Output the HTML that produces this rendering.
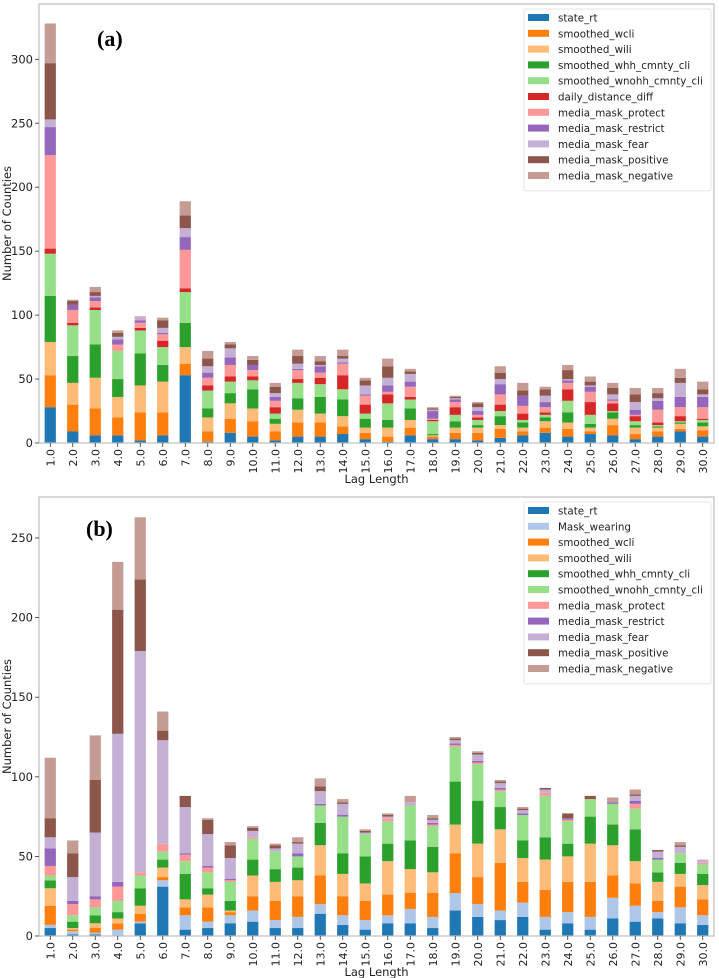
<!DOCTYPE html>
<html><head><meta charset="utf-8"><title>Number of Counties by Lag Length</title>
<style>
html,body{margin:0;padding:0;background:#fff;}
svg{display:block;font-family:"DejaVu Sans","Liberation Sans",sans-serif;}
</style></head>
<body>
<svg id="chart" width="719" height="978" viewBox="0 0 719 978"></svg>
<script>
// ---------- shared data ----------
const lagLabels = ["1.0","2.0","3.0","4.0","5.0","6.0","7.0","8.0","9.0","10.0","11.0","12.0","13.0","14.0","15.0","16.0","17.0","18.0","19.0","20.0","21.0","22.0","23.0","24.0","25.0","26.0","27.0","28.0","29.0","30.0"];

// ---------- panel (a) series ----------
const a_names = ["state_rt","smoothed_wcli","smoothed_wili","smoothed_whh_cmnty_cli","smoothed_wnohh_cmnty_cli","daily_distance_diff","media_mask_protect","media_mask_restrict","media_mask_fear","media_mask_positive","media_mask_negative"];
const a_state_rt  = [28,9,6,6,2,6,53,1,8,5,2,5,5,7,3,1,6,3,3,2,4,6,8,5,7,6,3,5,9,5];
const a_wcli      = [25,21,21,14,22,18,9,8,11,12,7,11,11,6,5,4,6,2,5,6,7,3,4,6,2,8,4,4,2,5];
const a_wili      = [26,17,24,16,21,24,13,11,12,10,6,10,7,8,4,7,6,1,4,4,3,3,5,5,3,5,5,3,4,3];
const a_whh       = [36,21,26,14,25,13,19,7,8,15,4,9,13,13,7,6,9,1,5,2,7,4,3,8,3,5,2,1,1,3];
const a_wnohh     = [33,24,27,22,18,14,24,14,9,7,4,12,10,8,4,13,7,10,5,4,4,2,2,9,7,1,3,1,1,2];
const a_daily     = [4,2,2,0,2,5,3,4,4,3,5,3,5,11,7,7,2,1,6,2,5,5,2,9,10,6,4,2,4,1];
const a_protect   = [73,10,5,5,4,5,30,6,9,5,5,7,4,9,7,2,8,1,4,2,8,6,4,5,8,2,1,10,7,9];
const a_restrict  = [22,4,3,4,2,1,10,4,6,4,3,1,5,1,1,5,4,6,2,3,8,8,4,2,4,1,4,7,8,8];
const a_fear      = [6,0,1,2,2,4,7,5,7,0,3,4,1,3,7,6,6,1,1,3,4,0,5,1,1,4,6,2,11,2];
const a_positive  = [44,3,3,3,0,6,10,6,3,4,5,6,3,2,4,9,2,1,1,3,5,4,5,7,3,5,6,4,4,4];
const a_negative  = [31,1,4,2,1,2,11,6,2,3,3,5,4,5,2,6,2,1,1,1,5,6,2,4,4,4,5,4,7,6];
const a_series = [a_state_rt,a_wcli,a_wili,a_whh,a_wnohh,a_daily,a_protect,a_restrict,a_fear,a_positive,a_negative];
const a_colors = ["#1f77b4","#ff7f0e","#ffbb78","#2ca02c","#98df8a","#d62728","#ff9896","#9467bd","#c5b0d5","#8c564b","#c49c94"];
const a_ticks = [0,50,100,150,200,250,300];

// ---------- panel (b) series ----------
const b_names = ["state_rt","Mask_wearing","smoothed_wcli","smoothed_wili","smoothed_whh_cmnty_cli","smoothed_wnohh_cmnty_cli","media_mask_protect","media_mask_restrict","media_mask_fear","media_mask_positive","media_mask_negative"];
const b_state_rt  = [5,1,1,0,8,31,4,5,8,9,5,5,14,7,4,8,8,5,16,12,10,12,4,8,4,11,9,11,8,7];
const b_mask      = [2,2,1,4,1,4,9,4,5,7,5,7,6,6,6,5,9,7,11,8,6,9,8,7,8,13,10,4,10,6];
const b_wcli      = [12,1,3,4,5,2,5,9,2,9,12,13,18,12,12,13,10,15,25,17,30,13,17,19,22,14,14,7,13,10];
const b_wili      = [11,1,3,3,5,6,5,8,1,13,12,10,19,14,11,21,15,13,18,21,21,15,19,16,24,19,14,12,8,9];
const b_whh       = [5,4,5,4,11,5,16,4,6,10,8,8,14,13,17,11,18,16,27,27,14,11,14,8,17,13,20,6,7,7];
const b_wnohh     = [3,4,5,7,8,5,8,10,12,13,11,7,11,23,14,14,22,13,22,23,10,16,26,14,11,13,13,8,6,6];
const b_protect   = [6,7,5,9,2,5,4,3,1,1,0,0,0,0,0,2,0,1,1,1,1,0,2,1,0,0,3,0,0,1];
const b_restrict  = [11,2,2,3,0,0,1,1,1,0,0,2,1,1,0,0,0,1,1,1,1,1,0,1,0,1,2,1,0,0];
const b_fear      = [7,15,40,93,139,65,29,20,13,4,2,6,8,7,1,1,2,2,2,4,3,2,2,0,0,0,3,4,4,2];
const b_positive  = [12,15,33,78,45,6,7,9,8,2,2,1,3,1,1,1,0,1,1,1,1,1,1,3,2,0,1,1,1,0];
const b_negative  = [38,8,28,30,39,12,0,1,2,1,1,3,5,2,1,1,4,2,1,1,1,1,0,0,0,3,3,0,2,0];
const b_series = [b_state_rt,b_mask,b_wcli,b_wili,b_whh,b_wnohh,b_protect,b_restrict,b_fear,b_positive,b_negative];
const b_colors = ["#1f77b4","#aec7e8","#ff7f0e","#ffbb78","#2ca02c","#98df8a","#ff9896","#9467bd","#c5b0d5","#8c564b","#c49c94"];
const b_ticks = [0,50,100,150,200,250];

const NS = "http://www.w3.org/2000/svg";
const svg = document.getElementById("chart");
function mk(tag, attrs, parent){
  const e = document.createElementNS(NS, tag);
  for (const k in attrs) e.setAttribute(k, attrs[k]);
  (parent||svg).appendChild(e);
  return e;
}

function drawPanel(cfg){
  const {left,right,top,bottom,yMax0,yPx0,names,series,colors,ticks,label,labelX,labelY,legTop,prefix} = cfg;
  const g = mk("g",{});
  
  
  const n = lagLabels.length;
  const step = (right-left)/n;
  const xc = i => left + step*(i+0.5);
  const pxPerUnit = (bottom - yPx0)/yMax0;
  const y = v => bottom - v*pxPerUnit;
  const bw = step*0.5;

  for (let i=0;i<n;i++){
    let cum = 0;
    for (let s=0;s<series.length;s++){
      const v = series[s][i];
      if (v<=0) continue;
      const r = mk("rect",{x:xc(i)-bw/2, y:y(cum+v), width:bw, height:v*pxPerUnit, fill:colors[s]}, g);
      
      
      cum += v;
    }
  }
  const frame = mk("rect",{x:left,y:top,width:right-left,height:bottom-top,fill:"none",stroke:"#bdbdbd","stroke-width":1.2}, g);
  
  
  ticks.forEach(t=>{
    const yy = y(t);
    mk("line",{x1:left-4,x2:left,y1:yy,y2:yy,stroke:"#333","stroke-width":0.8}, g);
    const tx = mk("text",{x:left-6,y:yy+4,"text-anchor":"end","font-size":"11.5",fill:"#222"}, g);
    tx.textContent = t;
    
    
  });
  lagLabels.forEach((lab,i)=>{
    const xx = xc(i);
    mk("line",{x1:xx,x2:xx,y1:bottom,y2:bottom+4,stroke:"#333","stroke-width":0.8}, g);
    const tx = mk("text",{x:0,y:0,"text-anchor":"end","font-size":"11",fill:"#222",transform:"translate("+(xx+4)+","+(bottom+6)+") rotate(-90)"}, g);
    tx.textContent = lab;
    
    
  });
  const xt = mk("text",{x:(left+right)/2,y:bottom+40,"text-anchor":"middle","font-size":"11.5",fill:"#222"}, g);
  xt.textContent = "Lag Length";
  
  
  const yt = mk("text",{x:0,y:0,"text-anchor":"middle","font-size":"11.5",fill:"#222",transform:"translate(11,"+((top+bottom)/2)+") rotate(-90)"}, g);
  yt.textContent = "Number of Counties";
  
  
  const pl = mk("text",{x:labelX,y:labelY,"font-size":"22","font-weight":"bold","font-family":"Liberation Serif, serif",fill:"#000"}, g);
  pl.textContent = label;
  
  
  const lg = mk("g",{}, g);
  
  
  const sp = 15.8;
  mk("rect",{x:524,y:legTop,width:187,height:sp*names.length+8,fill:"#fff",stroke:"#e6e6e6","stroke-width":1,rx:2}, lg);
  names.forEach((nm,s)=>{
    const cy = legTop + 8.5 + s*sp;
    const e = mk("g",{}, lg);
    
    
    mk("rect",{x:528,y:cy-3.5,width:21,height:7,fill:colors[s]}, e);
    const t = mk("text",{x:558,y:cy+4,"font-size":"10.3",fill:"#222"}, e);
    t.textContent = nm;
  });
}

drawPanel({left:39,right:714,top:4,bottom:443,yMax0:300,yPx0:59.3,names:a_names,series:a_series,colors:a_colors,ticks:a_ticks,label:"(a)",labelX:97,labelY:46,legTop:9,prefix:"panel-a"});
drawPanel({left:39,right:714,top:497,bottom:936,yMax0:250,yPx0:538,names:b_names,series:b_series,colors:b_colors,ticks:b_ticks,label:"(b)",labelX:86,labelY:536,legTop:502,prefix:"panel-b"});
</script>
</body></html>
